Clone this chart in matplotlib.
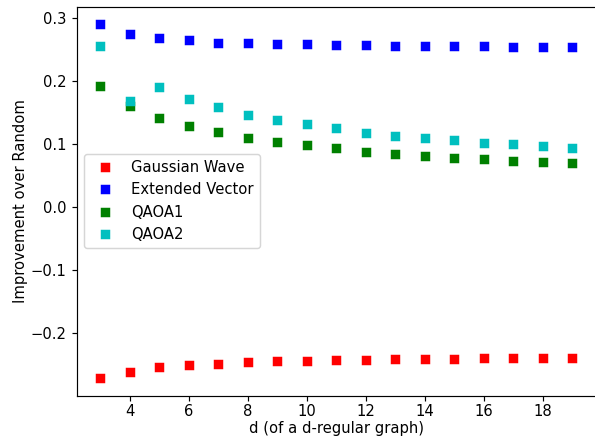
import numpy as np
import matplotlib
matplotlib.use('Agg')
import matplotlib.pyplot as plt

d = list(range(3, 20))

gaussian = [-0.271, -0.261, -0.254, -0.250, -0.249, -0.246, -0.244, -0.244, -0.242,
            -0.242, -0.241, -0.241, -0.241, -0.239, -0.239, -0.239, -0.239]
extended = [0.290, 0.275, 0.268, 0.265, 0.261, 0.260, 0.258, 0.258, 0.257,
            0.257, 0.255, 0.255, 0.255, 0.255, 0.2535, 0.2535, 0.2535]
qaoa1 = [0.192, 0.160, 0.142, 0.1286, 0.1185, 0.110, 0.103, 0.098, 0.093,
         0.088, 0.0847, 0.0815, 0.078, 0.076, 0.073, 0.0714, 0.070]
qaoa2 = [0.255, 0.169, 0.190, 0.171, 0.158, 0.1465, 0.138, 0.132, 0.125,
         0.118, 0.113, 0.110, 0.106, 0.1016, 0.0995, 0.0963, 0.093]

dpi = 106
fig = plt.figure(figsize=(595 / dpi, 440 / dpi), dpi=dpi)
ax = fig.add_axes([0.129, 0.101, 0.872, 0.884])

ax.plot(d, gaussian, 's', color='r', label='Gaussian Wave')
ax.plot(d, extended, 's', color='b', label='Extended Vector')
ax.plot(d, qaoa1, 's', color='g', label='QAOA1')
ax.plot(d, qaoa2, 's', color='c', label='QAOA2')

ax.tick_params(axis='x', pad=2.5)
ax.set_xlabel('d (of a d-regular graph)', labelpad=1)
ax.set_ylabel('Improvement over Random', labelpad=2)
ax.legend(loc='center left')

fig.savefig('out.png', dpi=dpi)
